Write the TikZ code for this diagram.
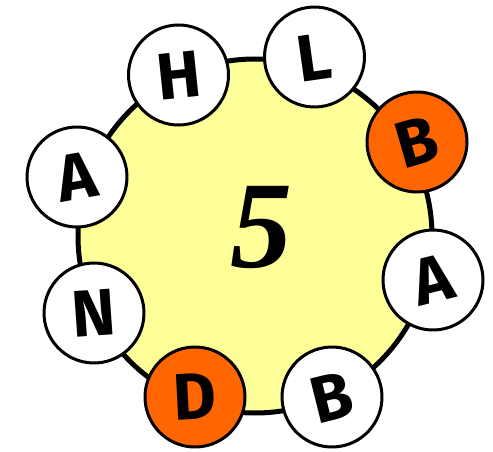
\documentclass[tikz,border=0pt]{standalone}
\usepackage{fontspec}
\usepackage{tikz}
\usetikzlibrary{positioning}
\newfontfamily\beadfont{Fira Sans}
\newfontfamily\numberfont{Liberation Serif}
\definecolor{paleyellow}{HTML}{FFFF99}
\definecolor{brightorange}{HTML}{FF6600}

\begin{document}
\begin{tikzpicture}[
  x=1pt, y=1pt,
  bead/.style={
    circle,
    draw=black,
    fill=white,
    line width=3pt,
    minimum size=100pt,
    inner sep=0pt,
    font=\beadfont\bfseries\fontsize{66}{66}\selectfont
  },
  hotbead/.style={bead, fill=brightorange}
]
  \useasboundingbox (0,0) rectangle (493,451);

  % Central disc with its count
  \node[circle, draw=black, fill=paleyellow, line width=5pt, minimum size=354pt, inner sep=0pt] (ring) at (255,215) {};
  \node[font=\numberfont\bfseries\itshape\fontsize{124}{124}\selectfont] (count) at (261,223) {5};

  % Beads round the disc, clockwise from the top left
  \node[bead, rotate=6] (h) at (178.5,376) {H};
  \node[bead, rotate=8] (l) at (314.5,394) {L};
  \node[hotbead, rotate=16] (b1) at (417,309) {B};
  \node[bead, rotate=14] (a1) at (433,171) {A};
  \node[bead, rotate=14] (b2) at (332,54) {B};
  \node[hotbead, rotate=3] (d) at (195,54) {D};
  \node[bead, rotate=4] (n) at (94,138) {N};
  \node[bead, rotate=10] (a2) at (77,274) {A};

\end{tikzpicture}
\end{document}
